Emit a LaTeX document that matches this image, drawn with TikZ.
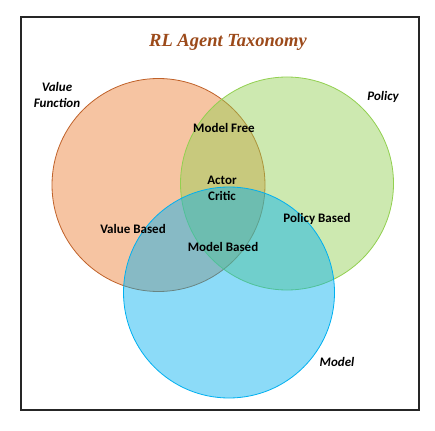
\documentclass[tikz,border=0pt]{standalone}
\usepackage{fontspec}
\setmainfont{Carlito}
\newfontfamily\titlefont{Liberation Serif}
\usetikzlibrary{positioning}
\definecolor{valorange}{HTML}{ED7D31}
\definecolor{valedge}{HTML}{C0622A}
\definecolor{polgreen}{HTML}{92D050}
\definecolor{modblue}{HTML}{00B0F0}
\definecolor{titlebrown}{HTML}{9C4A1A}

\begin{document}
\begin{tikzpicture}[x=1pt, y=-1pt,
    setname/.style={font=\fontsize{13}{16.5}\selectfont\bfseries\itshape, align=center},
    region/.style={font=\fontsize{13}{16}\selectfont\bfseries, align=center}]
            \useasboundingbox (0, 0) rectangle (435, 430);
            \fill[white] (0, 0) rectangle (435, 430);
            \draw[black!85, line width=1.3pt] (21, 17) rectangle (419, 410);
            \node (T) at (228, 42) {\titlefont\fontsize{18.5}{20}\selectfont\bfseries\itshape\color{titlebrown} RL Agent Taxonomy};

            \filldraw[fill=valorange, fill opacity=0.45, draw=valedge, line width=0.8pt] (158.5, 185) circle (106.5);
            \filldraw[fill=polgreen, fill opacity=0.45, draw=polgreen, line width=0.8pt] (287, 183.5) circle (106.5);
            \filldraw[fill=modblue, fill opacity=0.45, draw=modblue, line width=0.8pt] (229, 292.5) circle (105.5);

            \node (V) [setname] at (57, 95) {Value \\ Function};
            \node (P) [setname] at (383, 97) {Policy};
            \node (M) [setname] at (337, 362) {Model};
            \node (MF) [region] at (224, 128) {Model Free};
            \node (AC) [region] at (222, 188) {Actor \\ Critic};
            \node (VB) [region] at (133, 229) {Value Based};
            \node (PB) [region] at (317, 219) {Policy Based};
            \node (MB) [region] at (223, 247) {Model Based};
    \end{tikzpicture}
\end{document}
